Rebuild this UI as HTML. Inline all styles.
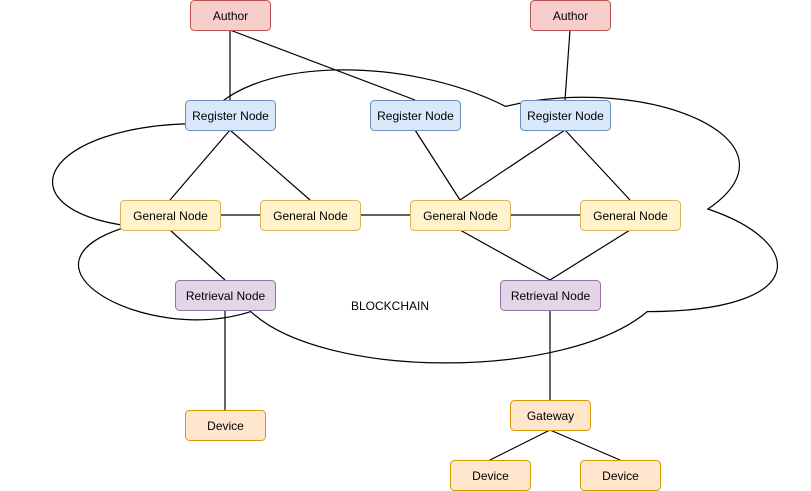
<!DOCTYPE html>
<html><head><meta charset="utf-8"><style>
html,body{margin:0;padding:0;background:#fff;}
svg{display:block;}
text{font-family:"Liberation Sans",Helvetica,Arial,sans-serif;font-size:12px;fill:#000;}
</style></head><body>
<svg width="811" height="491" viewBox="0 0 811 491" xmlns="http://www.w3.org/2000/svg">
<g transform="translate(0,38) scale(0.9806,1.0301)">
<path d="M206.25 83 C41.25 83 0 166 132 182.6 C0 219.1 148.5 298.8 255.75 265.6 C330 332 577.5 332 660 265.6 C825 265.6 825 199.2 721.9 166 C825 99.6 660 33.2 515.6 66.4 C412.5 16.6 247.5 16.6 206.25 83 Z" fill="none" stroke="#000" stroke-width="1.2"/>
</g>
<g stroke="#000" stroke-width="1.2" fill="none">
<line x1="230" y1="30" x2="230" y2="100"/>
<line x1="230" y1="30" x2="415" y2="100"/>
<line x1="570" y1="30" x2="565" y2="100"/>
<line x1="230" y1="130" x2="170" y2="200"/>
<line x1="230" y1="130" x2="310" y2="200"/>
<line x1="415" y1="130" x2="460" y2="200"/>
<line x1="565" y1="130" x2="460" y2="200"/>
<line x1="565" y1="130" x2="630" y2="200"/>
<line x1="220" y1="215" x2="260" y2="215"/>
<line x1="360" y1="215" x2="410" y2="215"/>
<line x1="510" y1="215" x2="580" y2="215"/>
<line x1="170" y1="230" x2="225" y2="280"/>
<line x1="460" y1="230" x2="550" y2="280"/>
<line x1="630" y1="230" x2="550" y2="280"/>
<line x1="225" y1="310" x2="225" y2="410"/>
<line x1="550" y1="310" x2="550" y2="400"/>
<line x1="550" y1="430" x2="490" y2="460"/>
<line x1="550" y1="430" x2="620" y2="460"/>
</g>
<g stroke-width="1">
<rect x="190.5" y="0.5" width="80" height="30" rx="4" fill="#f8cecc" stroke="#b85450"/>
<rect x="530.5" y="0.5" width="80" height="30" rx="4" fill="#f8cecc" stroke="#b85450"/>
<rect x="185.5" y="100.5" width="90" height="30" rx="4" fill="#dae8fc" stroke="#6c8ebf"/>
<rect x="370.5" y="100.5" width="90" height="30" rx="4" fill="#dae8fc" stroke="#6c8ebf"/>
<rect x="520.5" y="100.5" width="90" height="30" rx="4" fill="#dae8fc" stroke="#6c8ebf"/>
<rect x="120.5" y="200.5" width="100" height="30" rx="4" fill="#fff2cc" stroke="#d6b656"/>
<rect x="260.5" y="200.5" width="100" height="30" rx="4" fill="#fff2cc" stroke="#d6b656"/>
<rect x="410.5" y="200.5" width="100" height="30" rx="4" fill="#fff2cc" stroke="#d6b656"/>
<rect x="580.5" y="200.5" width="100" height="30" rx="4" fill="#fff2cc" stroke="#d6b656"/>
<rect x="175.5" y="280.5" width="100" height="30" rx="4" fill="#e1d5e7" stroke="#9673a6"/>
<rect x="500.5" y="280.5" width="100" height="30" rx="4" fill="#e1d5e7" stroke="#9673a6"/>
<rect x="185.5" y="410.5" width="80" height="30" rx="4" fill="#ffe6cc" stroke="#d79b00"/>
<rect x="510.5" y="400.5" width="80" height="30" rx="4" fill="#ffe6cc" stroke="#d79b00"/>
<rect x="450.5" y="460.5" width="80" height="30" rx="4" fill="#ffe6cc" stroke="#d79b00"/>
<rect x="580.5" y="460.5" width="80" height="30" rx="4" fill="#ffe6cc" stroke="#d79b00"/>
</g>
<g text-anchor="middle">
<text x="230.5" y="20">Author</text>
<text x="570.5" y="20">Author</text>
<text x="230.5" y="120">Register Node</text>
<text x="415.5" y="120">Register Node</text>
<text x="565.5" y="120">Register Node</text>
<text x="170.5" y="220">General Node</text>
<text x="310.5" y="220">General Node</text>
<text x="460.5" y="220">General Node</text>
<text x="630.5" y="220">General Node</text>
<text x="225.5" y="300">Retrieval Node</text>
<text x="550.5" y="300">Retrieval Node</text>
<text x="390" y="310">BLOCKCHAIN</text>
<text x="225.5" y="430">Device</text>
<text x="550.5" y="420">Gateway</text>
<text x="490.5" y="480">Device</text>
<text x="620.5" y="480">Device</text>
</g>
</svg>
</body></html>
